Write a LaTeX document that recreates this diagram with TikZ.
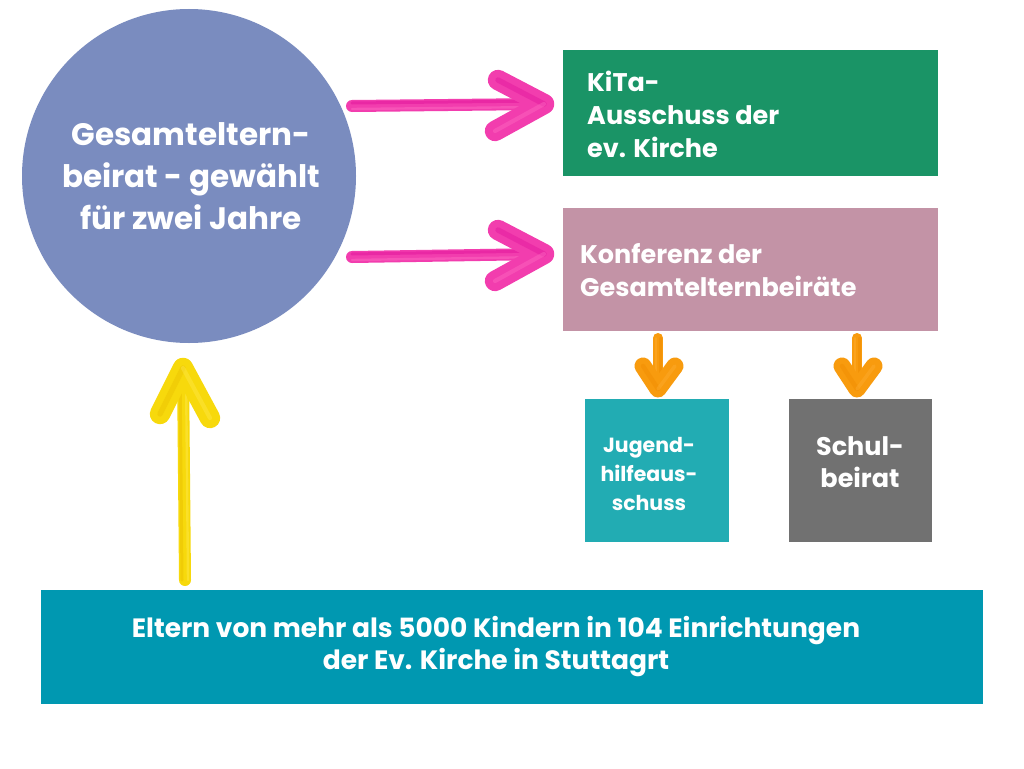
\documentclass[tikz,border=0pt]{standalone}
\usepackage{fontspec}
\setmainfont{Poppins}
\usetikzlibrary{calc}
\definecolor{circblue}{HTML}{7A8CBF}
\definecolor{kitagreen}{HTML}{1A9466}
\definecolor{konfrose}{HTML}{C393A6}
\definecolor{jugteal}{HTML}{22ACB3}
\definecolor{schulgray}{HTML}{717171}
\definecolor{elternblue}{HTML}{0098B1}
\definecolor{pinkA}{HTML}{F23DAE}
\definecolor{pinkB}{HTML}{E0109A}
\definecolor{pinkC}{HTML}{FF6EC4}
\definecolor{yelA}{HTML}{F7D90C}
\definecolor{yelB}{HTML}{E9BE00}
\definecolor{yelC}{HTML}{FFE94D}
\definecolor{orA}{HTML}{F89B0E}
\definecolor{orB}{HTML}{EF8A00}
\definecolor{orC}{HTML}{FFAE33}
\tikzset{
  box/.style={draw=none, inner sep=0pt, outer sep=0pt},
  wtext/.style={text=white, font=\bfseries, inner sep=0pt},
}
% brush arrow: #1 base colour, #2 dark, #3 light, #4 width, #5 start, #6 tip, #7 arm1, #8 arm2
\newcommand\brushArrow[8]{%
  \draw[#1, line width=#4, line cap=round] (#5) -- (#6);
  \draw[#2, line width=0.25*#4, line cap=round, opacity=0.45] ($(#5)!0.25*#4!90:(#6)$) -- ($(#6)!0.25*#4!-90:(#5)$);
  \draw[#3, line width=0.2*#4, line cap=round, opacity=0.45] ($(#5)!0.25*#4!-90:(#6)$) -- ($(#6)!0.25*#4!90:(#5)$);
  \draw[#1, line width=1.7*#4, line cap=round, line join=round] (#7) -- (#6) -- (#8);
  \draw[#2, line width=0.45*#4, line cap=round, line join=round, opacity=0.4] (#7) -- (#6);
  \draw[#3, line width=0.35*#4, line cap=round, line join=round, opacity=0.4] (#6) -- (#8);
}
\begin{document}
\begin{tikzpicture}[x=1pt, y=-1pt]
\useasboundingbox[fill=white] (0,0) rectangle (1024,768);

% shapes
\node[box, circle, fill=circblue, minimum size=334pt] (gesamt) at (189,176) {};
\node[wtext, align=center, font=\bfseries\fontsize{31}{42}\selectfont] (gesamtT) at (191,176)
  {Gesamteltern-\\beirat - gewählt\\für zwei Jahre};

\node[box, fill=kitagreen, minimum width=375pt, minimum height=126pt, anchor=north west] (kita) at (563,50) {};
\node[wtext, align=left, anchor=west, font=\bfseries\fontsize{25.5}{33}\selectfont] (kitaT) at (587,114)
  {KiTa-\\Ausschuss der\\ev. Kirche};

\node[box, fill=konfrose, minimum width=375pt, minimum height=123pt, anchor=north west] (konf) at (563,208) {};
\node[wtext, align=left, anchor=west, font=\bfseries\fontsize{25.5}{33}\selectfont] (konfT) at (580,270)
  {Konferenz der\\Gesamtelternbeiräte};

\node[box, fill=jugteal, minimum width=144pt, minimum height=143pt, anchor=north west] (jug) at (585,399) {};
\node[wtext, align=center, font=\bfseries\fontsize{20.5}{29}\selectfont] (jugT) at (649,474)
  {Jugend-\\hilfeaus-\\schuss};

\node[box, fill=schulgray, minimum width=143pt, minimum height=143pt, anchor=north west] (schul) at (789,399) {};
\node[wtext, align=center, font=\bfseries\fontsize{25.5}{32}\selectfont] (schulT) at (860,462)
  {Schul-\\beirat};

\node[box, fill=elternblue, minimum width=942pt, minimum height=114pt, anchor=north west] (eltern) at (41,590) {};
\node[wtext, align=center, font=\bfseries\fontsize{26.5}{32}\selectfont] (elternT) at (496,647)
  {Eltern von mehr als 5000 Kindern in 104 Einrichtungen\\der Ev. Kirche in Stuttagrt};

% arrow end points
\coordinate (p1s) at (352,106);
\coordinate (p1t) at (544,104);
\coordinate (p1a) at (498,80);
\coordinate (p1b) at (495,131);
\coordinate (p2s) at (352,257);
\coordinate (p2t) at (544,254);
\coordinate (p2a) at (498,230);
\coordinate (p2b) at (495,281);
\coordinate (ys) at (185,580);
\coordinate (yt) at (183,368);
\coordinate (ya) at (160,414);
\coordinate (yb) at (210,418);
\coordinate (o1s) at (658,338);
\coordinate (o1t) at (658,389);
\coordinate (o1a) at (643,366);
\coordinate (o1b) at (675,366);
\coordinate (o2s) at (857,338);
\coordinate (o2t) at (857,389);
\coordinate (o2a) at (842,366);
\coordinate (o2b) at (874,366);

% brush arrows
\brushArrow{pinkA}{pinkB}{pinkC}{12pt}{p1s}{p1t}{p1a}{p1b}
\brushArrow{pinkA}{pinkB}{pinkC}{12pt}{p2s}{p2t}{p2a}{p2b}
\brushArrow{yelA}{yelB}{yelC}{12pt}{ys}{yt}{ya}{yb}
\brushArrow{orA}{orB}{orC}{10pt}{o1s}{o1t}{o1a}{o1b}
\brushArrow{orA}{orB}{orC}{10pt}{o2s}{o2t}{o2a}{o2b}
\end{tikzpicture}
\end{document}
